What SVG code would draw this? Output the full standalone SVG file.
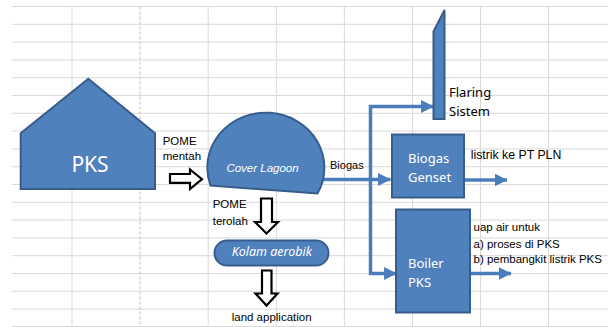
<svg xmlns="http://www.w3.org/2000/svg" width="613" height="327" viewBox="0 0 613 327">
<defs>
<style>
.grid line{stroke:#D9D9D9;stroke-width:1}
.grid line.dash{stroke:#C0C0C0;stroke-dasharray:3 2}
.shape{fill:#4F81BD;stroke:#385D8A;stroke-width:2}
.conn{fill:none;stroke:#4A7EBB;stroke-width:3.5;stroke-linejoin:miter}
.hollow{fill:#FFFFFF;stroke:#000000;stroke-width:2.2;stroke-linejoin:miter}
.lbl{font-family:"Liberation Sans",Arial,sans-serif;font-size:11.5px;fill:#000}
.cal{font-family:"Noto Sans","Open Sans",sans-serif;font-size:13px}
.w{fill:#FFFFFF}
.b{fill:#000000}
</style>
<marker id="ah" markerUnits="userSpaceOnUse" markerWidth="13" markerHeight="13" viewBox="0 0 12 12" refX="11.5" refY="6" orient="auto">
<path d="M0,0 L12,6 L0,12 Z" fill="#4A7EBB"/>
</marker>
</defs>
<rect x="0" y="0" width="613" height="327" fill="#FFFFFF"/>
<g class="grid">
<line x1="12" y1="6.5" x2="608" y2="6.5"/>
<line x1="12" y1="24.3" x2="608" y2="24.3"/>
<line x1="12" y1="42.1" x2="608" y2="42.1"/>
<line x1="12" y1="59.9" x2="608" y2="59.9"/>
<line x1="12" y1="77.7" x2="608" y2="77.7"/>
<line x1="12" y1="95.5" x2="608" y2="95.5"/>
<line x1="12" y1="113.3" x2="608" y2="113.3"/>
<line x1="12" y1="131.1" x2="608" y2="131.1"/>
<line x1="12" y1="148.9" x2="608" y2="148.9"/>
<line x1="12" y1="166.7" x2="608" y2="166.7"/>
<line x1="12" y1="184.5" x2="608" y2="184.5"/>
<line x1="12" y1="202.3" x2="608" y2="202.3"/>
<line x1="12" y1="220.1" x2="608" y2="220.1"/>
<line x1="12" y1="237.9" x2="608" y2="237.9"/>
<line x1="12" y1="255.7" x2="608" y2="255.7"/>
<line x1="12" y1="273.5" x2="608" y2="273.5"/>
<line x1="12" y1="291.3" x2="608" y2="291.3"/>
<line x1="12" y1="309.1" x2="608" y2="309.1"/>
<line x1="12" y1="326.5" x2="608" y2="326.5"/>
<line x1="72" y1="6.5" x2="72" y2="327"/>
<line class="dash" x1="140" y1="6.5" x2="140" y2="327"/>
<line x1="208.2" y1="6.5" x2="208.2" y2="327"/>
<line x1="276.3" y1="6.5" x2="276.3" y2="327"/>
<line x1="344.4" y1="6.5" x2="344.4" y2="327"/>
<line x1="412.5" y1="6.5" x2="412.5" y2="327"/>
<line x1="480.5" y1="6.5" x2="480.5" y2="327"/>
<line x1="548.5" y1="6.5" x2="548.5" y2="327"/>
</g>
<g id="connectors">
<path class="conn" d="M322,179.5 H390.5" marker-end="url(#ah)"/>
<path class="conn" d="M370.5,180 V106.5 H433.5" marker-end="url(#ah)"/>
<path class="conn" d="M370.5,179 V273.5 H396.5" marker-end="url(#ah)"/>
<path class="conn" d="M464,180 H507" marker-end="url(#ah)"/>
<path class="conn" d="M470,273.5 H511" marker-end="url(#ah)"/>
<polygon class="hollow" points="170,174 190,174 190,169.5 202,179.2 190,189 190,182.8 170,182.8"/>
<polygon class="hollow" points="261,198.5 272,198.5 272,222 278,222 266.5,233.5 255,222 261,222"/>
<polygon class="hollow" points="262,270.5 271.5,270.5 271.5,293.5 277.5,293.5 266.5,305.5 255.5,293.5 262,293.5"/>
<text class="lbl" x="162.7" y="144.5">POME</text>
<text class="lbl" x="162.7" y="159.5">mentah</text>
<text class="lbl" x="330" y="169" style="font-size:11px">Biogas</text>
<text class="lbl" x="212.7" y="208.3">POME</text>
<text class="lbl" x="212.7" y="225">terolah</text>
<text class="lbl" x="231.7" y="321">land application</text>
<text class="lbl" x="470.7" y="159.3" style="font-size:12.3px">listrik ke PT PLN</text>
<text class="lbl" x="473.5" y="231">uap air untuk</text>
<text class="lbl" x="473.5" y="247.5">a) proses di PKS</text>
<text class="lbl" x="473.5" y="263">b) pembangkit listrik PKS</text>
</g>
<g id="pks">
<polygon class="shape" points="88.3,78.7 155,133.3 155,189 20.7,189 20.7,133.3"/>
<text class="cal w" x="90" y="171.5" text-anchor="middle" style="font-size:21px">PKS</text>
</g>
<g id="cover-lagoon">
<path class="shape" d="M210.5,185.5 A58.5,55 0 1 1 317.5,193.5 Z"/>
<text class="lbl w" x="262.5" y="171.5" text-anchor="middle" font-style="italic">Cover Lagoon</text>
</g>
<g id="kolam-aerobik">
<rect class="shape" x="214.5" y="240.5" width="114" height="25" rx="12.5" ry="12.5"/>
<text class="cal w" x="231.7" y="256" font-style="italic" style="font-size:12.5px">Kolam aerobik</text>
</g>
<g id="flaring">
<polygon class="shape" points="433.5,31.5 444.5,10 444.5,119 433.5,119"/>
<text class="cal b" x="449" y="96.7">Flaring</text>
<text class="cal b" x="449" y="115.7">Sistem</text>
</g>
<g id="biogas-genset">
<rect class="shape" x="392" y="134.5" width="72" height="63"/>
<text class="cal w" x="408" y="162.7">Biogas</text>
<text class="cal w" x="408" y="181.7">Genset</text>
</g>
<g id="boiler-pks">
<rect class="shape" x="396" y="209.5" width="74" height="103"/>
<text class="cal w" x="408" y="268.3">Boiler</text>
<text class="cal w" x="408" y="287.3">PKS</text>
</g>
</svg>
